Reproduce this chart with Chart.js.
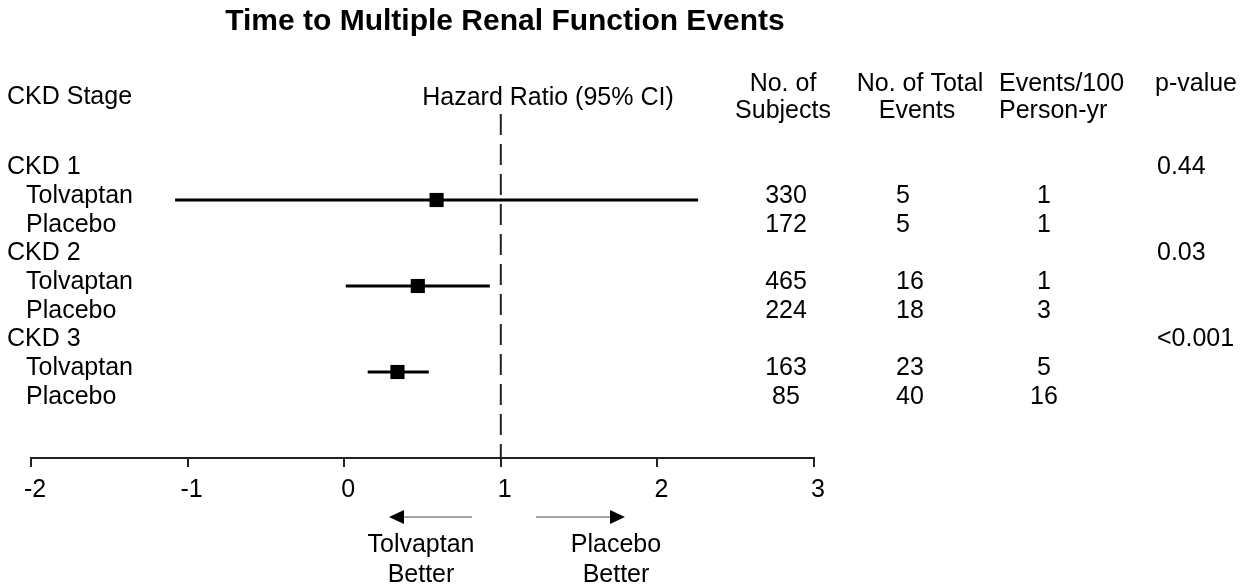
<!DOCTYPE html>
<html>
<head>
<meta charset="utf-8">
<script src="https://cdn.jsdelivr.net/npm/chart.js@4.4.1/dist/chart.umd.min.js"></script>
<style>
  html, body { margin: 0; padding: 0; background: #fff; }
  #wrap { width: 1249px; height: 588px; }
</style>
</head>
<body>
<div id="wrap"><canvas id="forest" width="1249" height="588"></canvas></div>
<script>
// rows of the table: group header, then tolvaptan and placebo
const groups = ['CKD 1', 'CKD 2', 'CKD 3'];
const armLabels = ['Tolvaptan', 'Placebo'];

// hazard ratio and 95% CI
const hazardRatio = [0.59, 0.47, 0.34];
const ciLower = [-1.08, 0.01, 0.15];
const ciUpper = [2.26, 0.93, 0.54];

const tolvSubjects = [330, 465, 163];
const placSubjects = [172, 224, 85];
const tolvEvents = [5, 16, 23];
const placEvents = [5, 18, 40];
const tolvRate = [1, 1, 5];
const placRate = [1, 3, 16];
const pValues = ['0.44', '0.03', '<0.001'];

const xTicks = [-2, -1, 0, 1, 2, 3];
const refValue = 1;

const FONT = "'Liberation Sans', Arial, sans-serif";
Chart.defaults.font.family = FONT;
Chart.defaults.color = '#000';

// row index helpers: group at 3g, tolvaptan 3g+1, placebo 3g+2
const rowOf = (g, k) => g * 3 + k;

const ciSets = groups.map((name, g) => ({
    label: name + ' CI',
    data: [{ x: ciLower[g], y: rowOf(g, 1) }, { x: ciUpper[g], y: rowOf(g, 1) }],
    showLine: true,
    borderColor: '#000',
    borderWidth: 3,
    pointRadius: 0
}));

const tableText = {
    id: 'tableText',
    afterDraw(chart) {
        const ctx = chart.ctx;
        const y = chart.scales.y;
        const body = '25px ' + FONT;
        const put = (t, px, py, align) => {
            ctx.textAlign = align || 'left';
            ctx.fillText(t, px, py);
        };
        ctx.save();
        ctx.fillStyle = '#000';
        ctx.textBaseline = 'middle';

        ctx.font = 'bold 30px ' + FONT;
        put('Time to Multiple Renal Function Events', 505, 22, 'center');

        ctx.font = body;
        put('CKD Stage', 7, 97);
        put('Hazard Ratio (95% CI)', 548, 98, 'center');
        put('No. of', 783, 84, 'center');
        put('Subjects', 783, 111, 'center');
        put('No. of Total', 920, 84, 'center');
        put('Events', 917, 111, 'center');
        put('Events/100', 999, 84);
        put('Person-yr', 999, 111);
        put('p-value', 1196, 84, 'center');

        groups.forEach((name, g) => {
            const yg = y.getPixelForValue(rowOf(g, 0)) - 4;
            const yt = y.getPixelForValue(rowOf(g, 1)) - 4;
            const yp = y.getPixelForValue(rowOf(g, 2)) - 4;
            put(name, 7, yg);
            put(armLabels[0], 26, yt);
            put(armLabels[1], 26, yp);
            put(String(tolvSubjects[g]), 786, yt, 'center');
            put(String(placSubjects[g]), 786, yp, 'center');
            put(String(tolvEvents[g]), 896, yt);
            put(String(placEvents[g]), 896, yp);
            put(String(tolvRate[g]), 1044, yt, 'center');
            put(String(placRate[g]), 1044, yp, 'center');
            put(pValues[g], 1157, yg);
        });

        // direction arrows under the axis
        const ay = 517;
        ctx.strokeStyle = '#888';
        ctx.lineWidth = 1.5;
        ctx.beginPath();
        ctx.moveTo(472, ay); ctx.lineTo(402, ay);
        ctx.moveTo(536, ay); ctx.lineTo(612, ay);
        ctx.stroke();
        ctx.beginPath();
        ctx.moveTo(389, ay); ctx.lineTo(404, ay - 7); ctx.lineTo(404, ay + 7); ctx.closePath();
        ctx.moveTo(625, ay); ctx.lineTo(610, ay - 7); ctx.lineTo(610, ay + 7); ctx.closePath();
        ctx.fill();

        put('Tolvaptan', 421, 545, 'center');
        put('Better', 421, 575, 'center');
        put('Placebo', 616, 545, 'center');
        put('Better', 616, 575, 'center');
        ctx.restore();
    }
};

new Chart(document.getElementById('forest'), {
    type: 'scatter',
    data: {
        datasets: [
            {
                label: 'no effect',
                data: [{ x: refValue, y: -2 }, { x: refValue, y: 10 }],
                showLine: true,
                borderColor: '#222',
                borderWidth: 2,
                borderDash: [21, 9],
                pointRadius: 0
            },
            ...ciSets,
            {
                label: 'Hazard ratio',
                data: hazardRatio.map((v, g) => ({ x: v, y: rowOf(g, 1) })),
                pointStyle: 'rect',
                pointRadius: 10,
                backgroundColor: '#000',
                borderColor: '#000',
                borderWidth: 0
            }
        ]
    },
    options: {
        responsive: false,
        animation: false,
        layout: { padding: { left: 31, right: 435, top: 114, bottom: 0 } },
        plugins: {
            legend: { display: false },
            tooltip: { enabled: false },
            title: { display: false }
        },
        scales: {
            x: {
                type: 'linear',
                min: xTicks[0],
                max: xTicks[xTicks.length - 1],
                afterBuildTicks: s => { s.ticks = xTicks.map(v => ({ value: v })); },
                afterFit: s => { s.height = 130; },
                ticks: { font: { size: 25 }, color: '#000', padding: 8, labelOffset: 4 },
                grid: { drawOnChartArea: false, drawTicks: true, tickLength: 9, color: '#222', lineWidth: 2 },
                border: { display: true, color: '#222', width: 2 }
            },
            y: {
                type: 'linear',
                display: false,
                reverse: true,
                min: -2,
                max: 10
            }
        }
    },
    plugins: [tableText]
});
</script>
</body>
</html>
